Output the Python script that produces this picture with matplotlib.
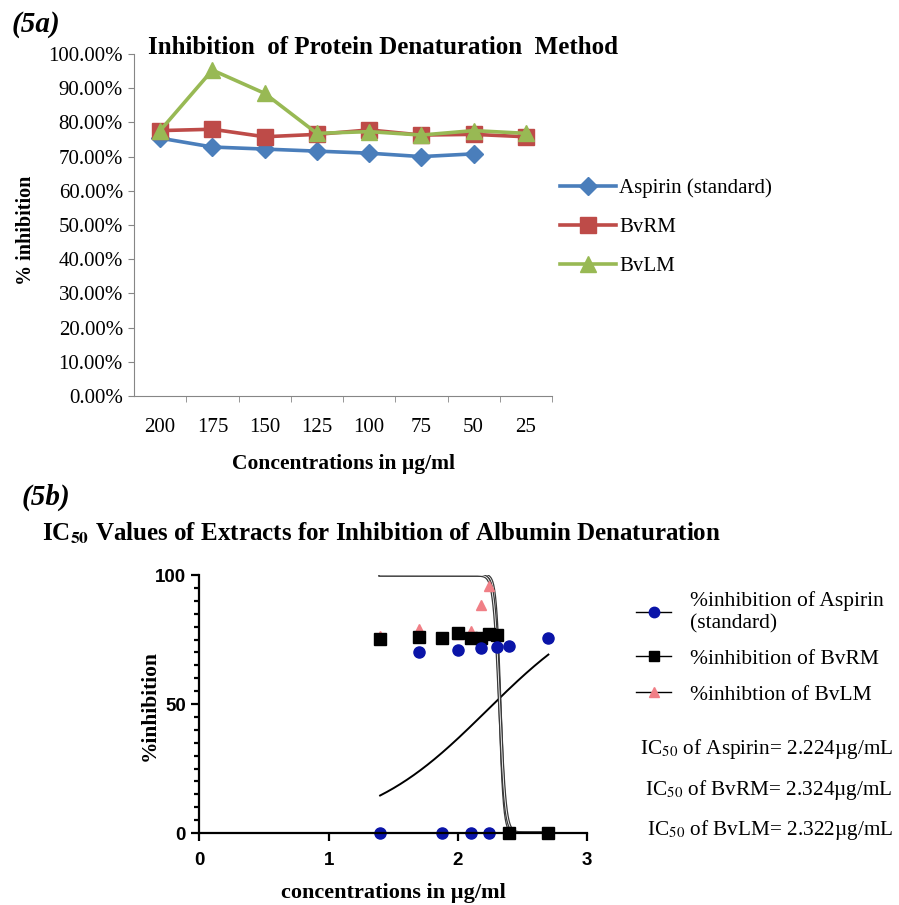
import numpy as np
import matplotlib.pyplot as plt
from matplotlib.lines import Line2D
from matplotlib.ticker import PercentFormatter, MultipleLocator

plt.rcParams['font.family'] = 'Liberation Serif'
plt.rcParams['mathtext.fontset'] = 'stix'

# (5a) percent inhibition per concentration
conc_labels = ['200', '175', '150', '125', '100', '75', '50', '25']
aspirin_pct = [75.4, 72.8, 72.2, 71.6, 71.0, 70.0, 70.8]
bvrm_pct = [77.6, 78.0, 75.8, 76.5, 77.8, 76.3, 76.5, 75.8]
bvlm_pct = [77.6, 95.3, 88.5, 76.8, 77.3, 76.3, 77.6, 76.8]

# (5b) log concentration vs %inhibition
asp_logc = [1.398, 1.875, 2.097, 2.243, 1.699, 2.0, 2.176, 2.301, 2.398, 2.699]
asp_inh = [0, 0, 0, 0, 70.3, 70.9, 71.6, 72.0, 72.5, 75.5]
rm_logc = [1.398, 1.699, 1.875, 2.0, 2.097, 2.176, 2.243, 2.301, 2.398, 2.699]
rm_inh = [75.2, 75.9, 75.7, 77.4, 75.7, 75.5, 77.1, 76.7, 0, 0]
lm_logc = [1.398, 1.699, 1.875, 2.0, 2.097, 2.176, 2.243, 2.301]
lm_inh = [76.5, 79.0, 76.0, 77.0, 78.3, 88.4, 95.7, 77.0]

# fitted curves: (bottom, top, log IC50, hill)
asp_fit = (0, 95, 2.224, 0.9)
rm_fit = (0, 100, 2.324, -25)
lm_fit = (0, 100, 2.322, -20)


def logistic(x, p):
    b, t, c, h = p
    return b + (t - b) / (1 + 10 ** ((c - x) * h))


W, H = 899, 905
fig = plt.figure(figsize=(W / 100, H / 100), dpi=100)


def box(x0, y0, x1, y1):
    return [x0 / W, 1 - y1 / H, (x1 - x0) / W, (y1 - y0) / H]


# ---------- (5a) ----------
ax = fig.add_axes(box(134, 54, 552, 396))
xs = np.arange(len(conc_labels))
ax.plot(xs[:len(aspirin_pct)], np.array(aspirin_pct) / 100, color='#4a7ebb', lw=2.6,
        marker='D', ms=9, label='Aspirin (standard)')
ax.plot(xs, np.array(bvrm_pct) / 100, color='#be4b48', lw=2.6,
        marker='s', ms=11, label='BvRM')
ax.plot(xs, np.array(bvlm_pct) / 100, color='#98b954', lw=2.6,
        marker='^', ms=11, label='BvLM')
ax.set_xlim(-0.5, len(conc_labels) - 0.5)
ax.set_ylim(0, 1)
ax.set_xticks(xs)
ax.set_xticklabels(conc_labels, fontsize=15)
ax.set_xticks(np.arange(0.5, len(conc_labels), 1), minor=True)
ax.tick_params(axis='x', which='major', length=0, pad=16)
ax.tick_params(axis='x', which='minor', length=4, color='#868686')
ax.yaxis.set_major_locator(MultipleLocator(0.1))
ax.yaxis.set_major_formatter(PercentFormatter(1.0, decimals=2))
ax.tick_params(axis='y', length=4, color='#868686', labelsize=15, pad=4)
for s in ['top', 'right']:
    ax.spines[s].set_visible(False)
for s in ['left', 'bottom']:
    ax.spines[s].set_color('#868686')
ax.set_ylabel('% inhibition', fontsize=14.5, fontweight='bold')
ax.yaxis.set_label_coords(-0.235, 0.485)
ax.set_xlabel('Concentrations in µg/ml', fontsize=15.5, fontweight='bold', labelpad=12)
fig.text(148 / W, 1 - 47 / H, 'Inhibition  of Protein Denaturation  Method',
         fontsize=18, fontweight='bold', va='center')
fig.text(12 / W, 1 - 25 / H, '(5a)', fontsize=21, fontweight='bold', style='italic',
         va='center')
fig.legend(loc='upper left', bbox_to_anchor=(541 / W, 1 - 160 / H), frameon=False,
           fontsize=15, labelspacing=0.92, handlelength=2.7, handletextpad=0.15)

# ---------- (5b) ----------
bx = fig.add_axes(box(199.3, 575, 587.3, 833))
xc = np.linspace(1.398, 2.699, 400)
bx.plot(xc, logistic(xc, asp_fit), color='black', lw=1.4)
bx.plot(xc, logistic(xc, rm_fit), color='#3a3a3a', lw=2.4)
bx.plot(xc, logistic(xc, rm_fit), color='white', lw=0.6)
bx.plot(xc, logistic(xc, lm_fit), color='#3a3a3a', lw=2.4)
bx.plot(xc, logistic(xc, lm_fit), color='white', lw=0.6)
bx.plot(lm_logc, lm_inh, ls='none', marker='^', ms=7.5, color='#f07f86', clip_on=False)
bx.plot(rm_logc, rm_inh, ls='none', marker='s', ms=8, color='black', clip_on=False)
bx.plot(asp_logc, asp_inh, ls='none', marker='o', ms=8, color='#0a14a8', clip_on=False)
bx.set_xlim(0, 3)
bx.set_ylim(0, 100)
bx.set_xticks([0, 1, 2, 3])
bx.set_yticks([0, 50, 100])
bx.yaxis.set_minor_locator(MultipleLocator(5))
for s in ['top', 'right']:
    bx.spines[s].set_visible(False)
for s in ['left', 'bottom']:
    bx.spines[s].set_linewidth(1.6)
bx.tick_params(which='major', length=6, width=1.6)
bx.tick_params(axis='x', which='major', pad=8)
bx.tick_params(which='minor', length=3.5, width=1.6)
for lab in bx.get_xticklabels() + bx.get_yticklabels():
    lab.set_family('Liberation Sans')
    lab.set_fontweight('bold')
    lab.set_fontsize(13.5)
bx.set_ylabel('%inhibition', fontsize=15.5, fontweight='bold')
bx.yaxis.set_label_coords(-0.102, 0.496)
bx.set_xlabel('concentrations in µg/ml', fontsize=16, fontweight='bold', labelpad=10)

fig.text(42 / W, 1 - 533 / H, r'IC$_{\mathbf{50}}$ Values of Extracts for Inhibition of Albumin Denaturation',
         fontsize=18, fontweight='bold', va='center')
fig.text(22 / W, 1 - 497 / H, '(5b)', fontsize=21, fontweight='bold', style='italic',
         va='center')

handles = [
    Line2D([], [], color='black', lw=1, marker='o', ms=7.5, mfc='#0a14a8', mec='#0a14a8'),
    Line2D([], [], color='black', lw=1, marker='s', ms=7.5, mfc='black'),
    Line2D([], [], color='black', lw=1, marker='^', ms=6.5, mfc='#f07f86', mec='#f07f86'),
]
labels = ['%inhibition of Aspirin\n(standard)', '%inhibition of BvRM', '%inhibtion of BvLM']
fig.legend(handles, labels, loc='upper left', bbox_to_anchor=(617 / W, 1 - 572 / H),
           frameon=False, fontsize=15.5, handlelength=1.6, handletextpad=0.9,
           labelspacing=0.72)

ic50_texts = [r'IC$_{50}$ of Aspirin= 2.224µg/mL',
              r'IC$_{50}$ of BvRM= 2.324µg/mL',
              r'IC$_{50}$ of BvLM= 2.322µg/mL']
for txt, yy in zip(ic50_texts, [749, 790, 830]):
    fig.text(893 / W, 1 - yy / H, txt, fontsize=15.3, ha='right', va='center')

fig.savefig('out.png', dpi=100)
